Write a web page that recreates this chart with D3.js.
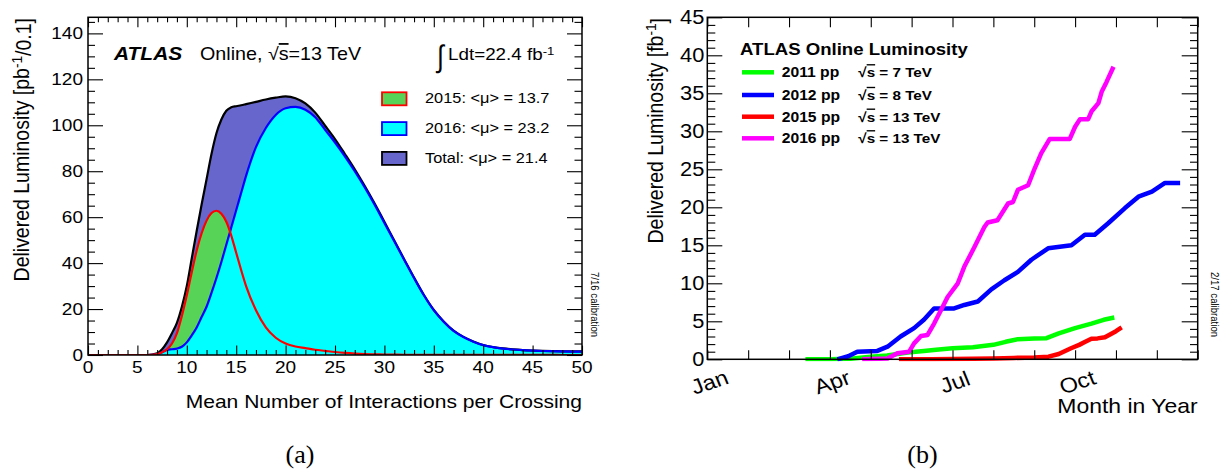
<!DOCTYPE html>
<html>
<head>
<meta charset="utf-8">
<script src="https://cdn.jsdelivr.net/npm/d3@7"></script>
<style>
  body { margin: 0; background: #fff; }
  svg { display: block; }
  text { font-family: "Liberation Sans", Arial, Helvetica, sans-serif; fill: #000; }
  .serif { font-family: "Liberation Serif", "DejaVu Serif", serif; }
  .tick line { stroke: #000; stroke-width: 1.1; }
</style>
</head>
<body>
<svg id="chart" width="1227" height="471"></svg>
<script>
// ---------- (a) pile-up distribution ----------
const muBins = [0, 6, 7, 7.5, 8, 8.5, 9, 9.5, 10, 10.5, 11, 11.5, 12, 12.5, 13, 13.5, 14, 14.5, 15, 15.5, 16,
  17, 18, 19, 20, 21, 22, 23, 24, 25, 26, 27, 28, 29, 30, 31, 32, 33, 34, 35, 36, 37, 38, 39, 40,
  41, 42, 43, 44, 45, 46, 47, 48, 49, 50];
const lumi2015 = [0, 0, 0.4, 1.2, 2.5, 5, 9.5, 17, 26, 36, 45.5, 53, 58.5, 61.8, 62.8, 61.5, 58, 52, 44.5, 37, 30,
  19.5, 12, 7.5, 5, 3.7, 3, 2.3, 1.8, 1.3, 0.9, 0.6, 0.4, 0.3, 0.2, 0.15, 0.1, 0.1, 0.08, 0.07, 0.06, 0.05, 0.05, 0.04, 0.04,
  0.03, 0.03, 0.03, 0.02, 0.02, 0.02, 0.02, 0.01, 0.01, 0.01];
const lumi2016 = [0, 0, 0.3, 1.2, 2.2, 2.5, 2.8, 3.6, 5.5, 8.5, 12, 16.5, 21, 27, 33.5, 40.5, 48, 55.5, 63, 70.5, 78,
  90.5, 98.8, 104.5, 107.4, 108, 106.8, 103.5, 98, 92.5, 86.5, 80, 73, 65.5, 57.5, 49.5, 41.5, 33.5, 26, 19.5, 14.5, 10.5, 7.8, 5.8, 4.3,
  3.4, 2.8, 2.4, 2.1, 1.9, 1.75, 1.65, 1.55, 1.5, 1.5];
const lumiTotal = [0, 0, 0.7, 2.5, 5.5, 9.5, 14, 21, 30, 42, 54, 65.5, 76.5, 87.5, 96.5, 102.5, 106.3, 107.8, 108.3, 108.7, 109.2,
  110.2, 111.2, 112, 112.6, 111.8, 109.5, 105.5, 99.8, 94, 87.5, 80.8, 73.6, 66, 58, 49.8, 41.7, 33.7, 26.1, 19.6, 14.6, 10.6, 7.9, 5.9, 4.35,
  3.45, 2.85, 2.45, 2.15, 1.95, 1.8, 1.7, 1.6, 1.55, 1.55];
const muTickLabels = [0, 5, 10, 15, 20, 25, 30, 35, 40, 45, 50];
const pileupTickLabels = [0, 20, 40, 60, 80, 100, 120, 140];
const pileupLegend = ["2015: <\u03bc> = 13.7", "2016: <\u03bc> = 23.2", "Total: <\u03bc> = 21.4"];

// ---------- (b) cumulative delivered luminosity ----------
const month2011 = [2.4, 3.0, 3.5, 4.0, 4.4, 4.9, 5.3, 5.6, 6.0, 6.5, 7.0, 7.3, 7.6, 8.0, 8.3, 8.6, 9.0, 9.4, 9.7, 9.96];
const lumi2011 = [0, 0.02, 0.08, 0.35, 0.5, 0.9, 1.1, 1.25, 1.45, 1.6, 1.9, 2.3, 2.65, 2.75, 2.78, 3.4, 4.1, 4.7, 5.2, 5.5];
const month2012 = [3.18, 3.45, 3.67, 4.16, 4.41, 4.73, 5.06, 5.3, 5.55, 6.04, 6.29, 6.62, 6.95, 7.27, 7.6, 7.93, 8.34, 8.91,
  9.24, 9.48, 9.81, 10.22, 10.55, 10.88, 11.2, 11.57];
const lumi2012 = [0, 0.4, 1.0, 1.1, 1.66, 3.0, 4.1, 5.2, 6.7, 6.7, 7.15, 7.6, 9.2, 10.4, 11.5, 13.1, 14.6, 15.0,
  16.4, 16.4, 17.9, 19.9, 21.4, 22.05, 23.2, 23.2];
const month2015 = [4.69, 5.5, 6.0, 6.5, 7.0, 7.5, 8.0, 8.35, 8.6, 8.9, 9.1, 9.25, 9.4, 9.55, 9.73, 9.9, 10.0, 10.14];
const lumi2015cum = [0, 0.02, 0.05, 0.08, 0.12, 0.18, 0.25, 0.35, 0.7, 1.45, 1.9, 2.3, 2.7, 2.75, 2.9, 3.4, 3.7, 4.2];
const month2016 = [3.79, 4.41, 4.65, 4.94, 5.06, 5.23, 5.39, 5.55, 5.72, 5.88, 6.13, 6.29, 6.54, 6.78, 6.86, 7.1, 7.36, 7.48,
  7.6, 7.85, 8.01, 8.17, 8.38, 8.87, 9.0, 9.12, 9.32, 9.4, 9.57, 9.65, 9.77, 9.94];
const lumi2016cum = [0, 0.1, 0.8, 1.0, 2.1, 3.07, 3.2, 4.7, 6.5, 8.2, 10.0, 12.2, 14.8, 17.4, 18.0, 18.3, 20.5, 20.7,
  22.3, 22.9, 25.1, 27.1, 29.0, 29.0, 30.6, 31.6, 31.6, 32.6, 33.7, 35.2, 36.5, 38.5];
const monthNames = ["Jan", "Apr", "Jul", "Oct"];
const monthNameIndex = [0, 3, 6, 9];
const lumiTickLabels = [0, 5, 10, 15, 20, 25, 30, 35, 40, 45];
const runYears = ["2011 pp", "2012 pp", "2015 pp", "2016 pp"];
const runEnergies = ["7", "8", "13", "13"];
const runColors = ["#00ff00", "#0000ff", "#ff0000", "#ff00ff"];

const svg = d3.select("#chart");
const SX = 1.12; // horizontal glyph stretch used for all text

function put(g, x, y, size, anchor, rot) {
  return g.append("text")
    .attr("transform", `translate(${x},${y}) scale(${SX},1)` + (rot ? ` rotate(${rot})` : ""))
    .attr("font-size", size)
    .attr("text-anchor", anchor || "start");
}
function supText(t, base, sup, rest) {
  t.append("tspan").text(base);
  t.append("tspan").attr("dy", "-0.45em").attr("font-size", "70%").text(sup);
  t.append("tspan").attr("dy", "0.45em").text(rest || "");
  return t;
}
function drawTicks(g, axisFn, scale, values, size, tx, ty) {
  g.append("g").attr("transform", `translate(${tx},${ty})`)
    .call(axisFn(scale).tickValues(values).tickSize(size).tickSizeOuter(0).tickFormat(""))
    .call(s => s.select(".domain").remove());
}

// ================= Panel (a) =================
const A = { l: 88, r: 582, t: 17.3, b: 355 };
const xa = d3.scaleLinear().domain([0, 50]).range([A.l, A.r]);
const ya = d3.scaleLinear().domain([0, 147]).range([A.b, A.t]);
const ga = svg.append("g");
ga.append("clipPath").attr("id", "clipA").append("rect")
  .attr("x", A.l).attr("y", A.t).attr("width", A.r - A.l).attr("height", A.b - A.t);
const pa = ga.append("g").attr("clip-path", "url(#clipA)");

const series = arr => muBins.map((m, i) => ({ mu: m, v: arr[i] }));
const area = d3.area().x(d => xa(d.mu)).y0(ya(0)).y1(d => ya(d.v)).curve(d3.curveMonotoneX);
const line = d3.line().x(d => xa(d.mu)).y(d => ya(d.v)).curve(d3.curveMonotoneX);

pa.append("path").attr("d", area(series(lumiTotal))).attr("fill", "#6666cc");
pa.append("path").attr("d", area(series(lumi2015))).attr("fill", "#57d457");
pa.append("path").attr("d", area(series(lumi2016))).attr("fill", "#00ffff");
pa.append("path").attr("d", line(series(lumiTotal))).attr("fill", "none").attr("stroke", "#000").attr("stroke-width", 2.2);
pa.append("path").attr("d", line(series(lumi2016))).attr("fill", "none").attr("stroke", "#0000ff").attr("stroke-width", 2.2);
pa.append("path").attr("d", line(series(lumi2015))).attr("fill", "none").attr("stroke", "#ff0000").attr("stroke-width", 2.2);

// ticks
const muMajor = d3.range(0, 51, 5), muMinor = d3.range(0, 51, 1).filter(v => v % 5);
const yaMajor = d3.range(0, 147, 20), yaMinor = d3.range(0, 147, 5).filter(v => v % 20);
drawTicks(ga, d3.axisBottom, xa, muMajor, -9.5, 0, A.b);
drawTicks(ga, d3.axisBottom, xa, muMinor, -5, 0, A.b);
drawTicks(ga, d3.axisTop, xa, muMajor, -10, 0, A.t);
drawTicks(ga, d3.axisTop, xa, muMinor, -5, 0, A.t);
drawTicks(ga, d3.axisLeft, ya, yaMajor, -15, A.l, 0);
drawTicks(ga, d3.axisLeft, ya, yaMinor, -7, A.l, 0);
drawTicks(ga, d3.axisRight, ya, yaMajor, -15, A.r, 0);
drawTicks(ga, d3.axisRight, ya, yaMinor, -7.5, A.r, 0);
ga.append("rect").attr("x", A.l).attr("y", A.t).attr("width", A.r - A.l).attr("height", A.b - A.t)
  .attr("fill", "none").attr("stroke", "#000").attr("stroke-width", 1.5);

muTickLabels.forEach(v => put(ga, xa(v), A.b + 18, 17, "middle").text(v));
pileupTickLabels.forEach(v => put(ga, A.l - 5, ya(v) + 6, 17, "end").text(v));

put(ga, A.r, 408, 18.8, "end").text("Mean Number of Interactions per Crossing");
supText(put(ga, 28.5, 18, 19.5, "end", -90), "Delivered Luminosity [pb", "-1", "/0.1]");

// header
put(ga, 114, 60, 18.7).attr("font-weight", "bold").attr("font-style", "italic").text("ATLAS");
{
  const t = put(ga, 200, 60, 17.6);
  t.append("tspan").text("Online, \u221a");
  t.append("tspan").attr("text-decoration", "overline").text("s");
  t.append("tspan").text("=13 TeV");
}
ga.append("text").attr("font-family", "DejaVu Sans").attr("font-size", 31)
  .attr("transform", "translate(437,67) scale(0.8,1)").text("\u222b");
supText(put(ga, 448, 60, 16.8), "Ldt=22.4 fb", "-1");

// legend
const legFill = ["#57d457", "#00ffff", "#6666cc"], legStroke = ["#ff0000", "#0000ff", "#000"];
pileupLegend.forEach((s, i) => {
  const yb = 103.3 + i * 29.8;
  ga.append("rect").attr("x", 382).attr("y", yb - 11).attr("width", 24.5).attr("height", 13)
    .attr("fill", legFill[i]).attr("stroke", legStroke[i]).attr("stroke-width", 1.8);
  put(ga, 425, yb, 14.6).text(s);
});
put(ga, 591, 272, 9.6, "start", 90).text("7/16 calibration");
svg.append("text").attr("class", "serif").attr("x", 300).attr("y", 463).attr("font-size", 26)
  .attr("text-anchor", "middle").text("(a)");

// ================= Panel (b) =================
const B = { l: 707.3, r: 1197.7, t: 17.3, b: 359.3 };
const xb = d3.scaleLinear().domain([0, 12]).range([B.l, B.r]);
const yb = d3.scaleLinear().domain([0, 45]).range([B.b, B.t]);
const gb = svg.append("g");
gb.append("clipPath").attr("id", "clipB").append("rect")
  .attr("x", B.l).attr("y", B.t - 2).attr("width", B.r - B.l).attr("height", B.b - B.t + 4);
const pb = gb.append("g").attr("clip-path", "url(#clipB)");

const runs = [[month2011, lumi2011], [month2012, lumi2012], [month2015, lumi2015cum], [month2016, lumi2016cum]];
const lineB = d3.line().x(d => xb(d[0])).y(d => yb(d[1]));
runs.forEach(([m, l], i) => {
  pb.append("path").attr("d", lineB(m.map((v, j) => [v, l[j]])))
    .attr("fill", "none").attr("stroke", runColors[i]).attr("stroke-width", 4.5)
    .attr("stroke-linejoin", "round");
});

const monthTicks = d3.range(0, 13);
const ybMajor = d3.range(0, 46, 5), ybMinor = d3.range(0, 46, 1).filter(v => v % 5);
drawTicks(gb, d3.axisBottom, xb, monthTicks, -9, 0, B.b);
drawTicks(gb, d3.axisTop, xb, monthTicks, -10, 0, B.t);
drawTicks(gb, d3.axisLeft, yb, ybMajor, -15, B.l, 0);
drawTicks(gb, d3.axisLeft, yb, ybMinor, -8, B.l, 0);
drawTicks(gb, d3.axisRight, yb, ybMajor, -16, B.r, 0);
drawTicks(gb, d3.axisRight, yb, ybMinor, -7.7, B.r, 0);
gb.append("rect").attr("x", B.l).attr("y", B.t).attr("width", B.r - B.l).attr("height", B.b - B.t)
  .attr("fill", "none").attr("stroke", "#000").attr("stroke-width", 1.5);

lumiTickLabels.forEach(v => put(gb, B.l - 3, yb(v) + 7, 19.5, "end").text(v));
monthNames.forEach((s, i) => put(gb, xb(monthNameIndex[i]) + 5, 389, 21, "middle", -20).text(s));
put(gb, B.r, 412.7, 20.5, "end").text("Month in Year");
supText(put(gb, 663, 18, 19.5, "end", -90), "Delivered Luminosity [fb", "-1", "]");

// legend
put(gb, 740, 55, 16.6).attr("font-weight", "bold").text("ATLAS Online Luminosity");
runYears.forEach((s, i) => {
  const base = [77.3, 100, 121.7, 143.3][i];
  gb.append("line").attr("x1", 742).attr("x2", 774)
    .attr("y1", base - 5).attr("y2", base - 5)
    .attr("stroke", runColors[i]).attr("stroke-width", 4.5);
  put(gb, 781.7, base, 14).attr("font-weight", "bold").text(s);
  const t = put(gb, 858.3, base, 13.6).attr("font-weight", "bold");
  t.append("tspan").text("\u221a");
  t.append("tspan").attr("text-decoration", "overline").text("s");
  t.append("tspan").text(` = ${runEnergies[i]} TeV`);
});
put(gb, 1211, 272, 9.6, "start", 90).text("2/17 calibration");
svg.append("text").attr("class", "serif").attr("x", 922.5).attr("y", 463).attr("font-size", 26)
  .attr("text-anchor", "middle").text("(b)");
</script>
</body>
</html>
